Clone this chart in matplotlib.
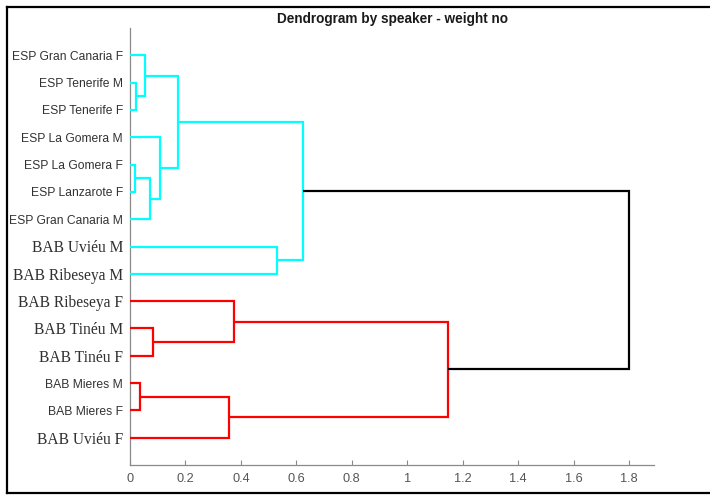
import matplotlib
matplotlib.use('Agg')
import matplotlib.pyplot as plt
from matplotlib.lines import Line2D

# ---------------- data ----------------
# leaves from bottom (y=1) to top (y=15)
leaf_labels = [
    "BAB Uviéu F", "BAB Mieres F", "BAB Mieres M", "BAB Tinéu F", "BAB Tinéu M",
    "BAB Ribeseya F", "BAB Ribeseya M", "BAB Uviéu M", "ESP Gran Canaria M",
    "ESP Lanzarote F", "ESP La Gomera F", "ESP La Gomera M", "ESP Tenerife F",
    "ESP Tenerife M", "ESP Gran Canaria F",
]
# merges (children are leaf labels or earlier merge ids n1, n2, ...)
merge_a = ["ESP Tenerife M", "ESP Gran Canaria F", "ESP La Gomera F", "n3",
           "ESP La Gomera M", "n2", "BAB Uviéu M", "n6",
           "BAB Tinéu M", "BAB Ribeseya F", "BAB Mieres M", "n11", "n10", "n8"]
merge_b = ["ESP Tenerife F", "n1", "ESP Lanzarote F", "ESP Gran Canaria M",
           "n4", "n5", "BAB Ribeseya M", "n7",
           "BAB Tinéu F", "n9", "BAB Mieres F", "BAB Uviéu F", "n12", "n13"]
merge_height = [0.022, 0.055, 0.018, 0.072, 0.108, 0.172, 0.532, 0.623,
                0.082, 0.374, 0.037, 0.356, 1.147, 1.799]
merge_cluster = ["c", "c", "c", "c", "c", "c", "c", "c",
                 "r", "r", "r", "r", "r", "k"]
x_ticks = [0, 0.2, 0.4, 0.6, 0.8, 1, 1.2, 1.4, 1.6, 1.8]
x_tick_labels = ["0", "0.2", "0.4", "0.6", "0.8", "1", "1.2", "1.4", "1.6", "1.8"]
title = "Dendrogram by speaker - weight no"

# ---------------- style ----------------
cluster_colors = {"c": "#00FFFF", "r": "#FF0000", "k": "#000000"}
W, H = 710, 497
fig = plt.figure(figsize=(W / 100, H / 100), dpi=100)
ax = fig.add_axes([130 / W, 1 - 465 / H, (654 - 130) / W, (465 - 28) / H])

pos = {lab: (0.0, i + 1) for i, lab in enumerate(leaf_labels)}
for k, (a, b, h, c) in enumerate(zip(merge_a, merge_b, merge_height, merge_cluster)):
    xa, ya = pos[a]
    xb, yb = pos[b]
    ax.plot([xa, h, h, xb], [ya, ya, yb, yb], color=cluster_colors[c],
            lw=1.6, solid_joinstyle='miter', solid_capstyle='butt', zorder=3)
    pos["n%d" % (k + 1)] = (h, (ya + yb) / 2)

ax.set_xlim(0, 1.89)
ax.set_ylim(0, 16)
ax.set_xticks(x_ticks)
ax.set_xticklabels(x_tick_labels)
ax.set_yticks(range(1, len(leaf_labels) + 1))
ax.set_yticklabels(leaf_labels)

for sp in ["top", "right"]:
    ax.spines[sp].set_visible(False)
for sp in ["left", "bottom"]:
    ax.spines[sp].set_color("#8a8a8a")
    ax.spines[sp].set_linewidth(0.9)

ax.tick_params(axis='x', direction='in', length=3.5, width=0.8, color="#8a8a8a",
               pad=6, labelsize=9.2, labelcolor="#555555")
for t in ax.get_xticklabels():
    t.set_family("Liberation Sans")
ax.tick_params(axis='y', length=0, pad=5, labelcolor="#333333")
for t in ax.get_yticklabels():
    txt = t.get_text()
    if txt.startswith("ESP") or "Mieres" in txt:
        t.set_family("Liberation Sans")
        t.set_fontsize(8.7)
    else:
        t.set_family("Liberation Serif")
        t.set_fontsize(11.2)
        t.set_color("#303030")

fig.text(392 / W, 1 - 19 / H, title, ha='center', va='center',
         fontsize=9.8, fontweight='bold', family="Liberation Sans", color="#1a1a1a")

# screenshot frame lines
lw_frame = 1.6
fig.add_artist(Line2D([7 / W, 1.0], [1 - 6.5 / H, 1 - 6.5 / H], color='black', lw=lw_frame))
fig.add_artist(Line2D([7 / W, 7 / W], [1 - 6.5 / H, 1 - 493 / H], color='black', lw=lw_frame))
fig.add_artist(Line2D([7 / W, 1.0], [1 - 493 / H, 1 - 493 / H], color='black', lw=lw_frame))

fig.savefig("out.png", dpi=100)
